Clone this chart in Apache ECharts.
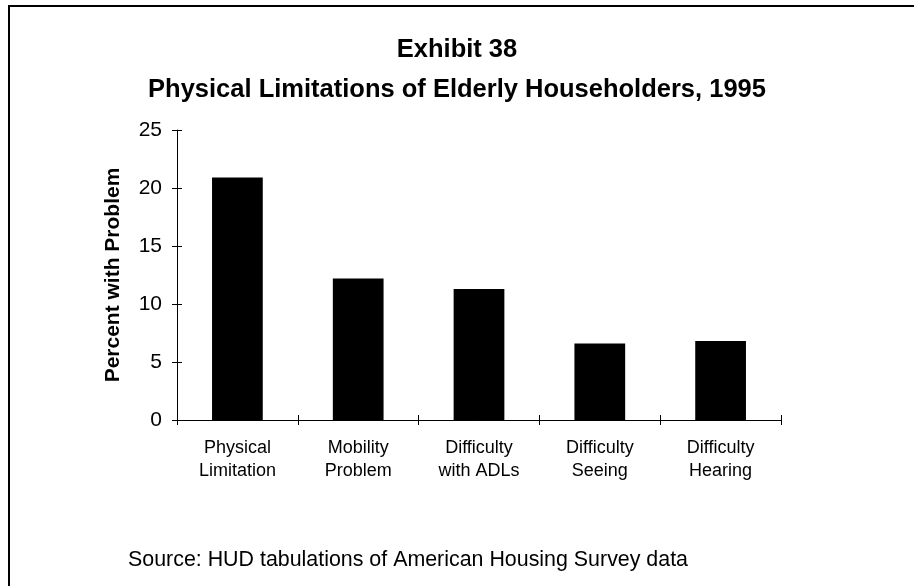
<!DOCTYPE html>
<html>
<head>
<meta charset="utf-8">
<script src="https://cdn.jsdelivr.net/npm/echarts@6/dist/echarts.min.js"></script>
<style>
  html, body { margin: 0; padding: 0; background: #fff; }
  #main { width: 914px; height: 586px; }
</style>
</head>
<body>
<div id="main"></div>
<script>
// chart data
var categories = ['Physical\nLimitation', 'Mobility\nProblem', 'Difficulty\nwith ADLs', 'Difficulty\nSeeing', 'Difficulty\nHearing']
var percentWithProblem = [20.9, 12.2, 11.3, 6.6, 6.8]
var yTicks = [0, 5, 10, 15, 20, 25]

var chart = echarts.init(document.getElementById('main'))
var font = 'Liberation Sans, Arial, sans-serif'

var option = {
  backgroundColor: '#fff',
  animation: false,
  title: {
    text: 'Exhibit 38\nPhysical Limitations of Elderly Householders, 1995',
    left: 'center',
    top: 25,
    textStyle: { fontFamily: font, fontSize: 25.5, fontWeight: 'bold', color: '#000', lineHeight: 40 }
  },
  graphic: [
    {
      type: 'rect',
      shape: { x: 9, y: 6, width: 1000, height: 1000 },
      style: { fill: 'none', stroke: '#000', lineWidth: 2 },
      silent: true
    },
    {
      type: 'text',
      left: 128,
      top: 550,
      style: { text: 'Source: HUD tabulations of American Housing Survey data', font: '21.4px ' + font, fill: '#000' }
    }
  ],
  grid: { left: 177, right: 133, top: 130, bottom: 166 },
  xAxis: [
    {
      type: 'category',
      data: categories,
      axisLine: { lineStyle: { color: '#000', width: 1 } },
      axisTick: { show: true, length: 5, lineStyle: { color: '#000' } },
      axisLabel: { color: '#000', fontFamily: font, fontSize: 18, lineHeight: 23, margin: 17 }
    },
    {
      type: 'category',
      data: categories,
      position: 'bottom',
      axisLine: { show: false },
      axisTick: { show: true, inside: true, length: 5, lineStyle: { color: '#000' } },
      axisLabel: { show: false }
    }
  ],
  yAxis: [
    {
      type: 'value',
      min: yTicks[0],
      max: yTicks[yTicks.length - 1],
      interval: 5,
      name: 'Percent with Problem',
      nameLocation: 'middle',
      nameGap: 53,
      nameTextStyle: { fontFamily: font, fontSize: 21, fontWeight: 'bold', color: '#000' },
      splitLine: { show: false },
      axisLine: { show: true, lineStyle: { color: '#000', width: 1 } },
      axisTick: { show: true, length: 5, lineStyle: { color: '#000' } },
      axisLabel: { color: '#000', fontFamily: font, fontSize: 21, margin: 15 }
    },
    {
      type: 'value',
      position: 'left',
      min: yTicks[0],
      max: yTicks[yTicks.length - 1],
      interval: 5,
      splitLine: { show: false },
      axisLine: { show: false },
      axisTick: { show: true, inside: true, length: 5, lineStyle: { color: '#000' } },
      axisLabel: { show: false }
    }
  ],
  series: [
    {
      type: 'bar',
      data: percentWithProblem,
      barWidth: '42%',
      itemStyle: { color: '#000' }
    }
  ]
}

chart.setOption(option)
</script>
</body>
</html>
